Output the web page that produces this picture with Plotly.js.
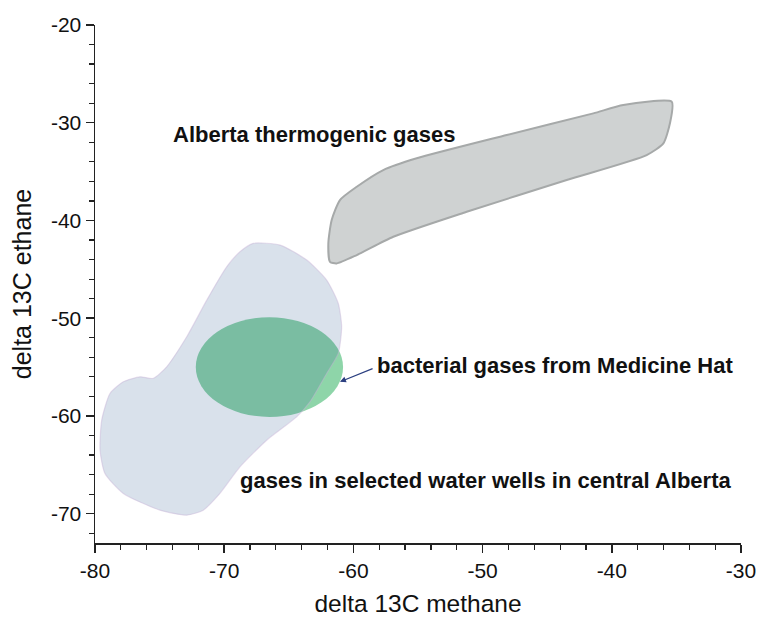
<!DOCTYPE html>
<html>
<head>
<meta charset="utf-8">
<script src="https://cdn.plot.ly/plotly-3.0.1.min.js"></script>
<style>html,body{margin:0;padding:0;background:#fff;}#chart{width:757px;height:617px;}</style>
</head>
<body>
<div id="chart"></div>
<script>
// Outline of "Alberta thermogenic gases" field (delta13C methane, delta13C ethane)
const thermoX = [-35.36,-39.11,-41.43,-48.13,-55.10,-57.69,-59.74,-61.04,-61.68,-61.94,-61.81,-61.29,-59.74,-56.91,-51.23,-43.49,-37.30,-36.01,-35.50,-35.36];
const thermoY = [-27.85,-28.19,-29.04,-31.26,-33.64,-34.84,-36.55,-37.91,-39.96,-42.34,-44.23,-44.39,-43.54,-41.67,-39.11,-35.86,-33.31,-32.11,-30.06,-27.85];

// Outline of "gases in selected water wells in central Alberta" field
const wellsX = [-67.75,-65.68,-63.61,-62.07,-61.17,-60.91,-61.17,-62.07,-63.36,-64.39,-66.71,-68.78,-70.33,-71.62,-72.90,-74.97,-77.81,-79.23,-79.61,-79.48,-78.84,-77.81,-76.52,-75.49,-74.45,-72.90,-71.35,-69.81,-68.78,-67.75];
const wellsY = [-42.34,-42.52,-44.05,-46.10,-48.49,-50.88,-53.60,-55.65,-58.56,-60.09,-62.48,-65.21,-67.93,-69.64,-70.15,-69.64,-67.93,-65.89,-63.50,-60.43,-57.70,-56.51,-56.00,-56.16,-54.97,-51.90,-48.15,-44.74,-43.20,-42.34];

// Bacterial gases from Medicine Hat: ellipse bounds
const bactX = [-72.2, -60.8];
const bactY = [-60.1, -49.9];

// Single marked sample
const sampleX = [-80.9];
const sampleY = [-69.7];

// Labels
const labelText = ["Alberta thermogenic gases", "bacterial gases from Medicine Hat", "gases in selected water wells in central Alberta"];
const labelX = [-74.1, -58.3, -68.95];
const labelY = [-31.2, -54.8, -66.6];
const arrowHead = [-61.04, -56.51];
const arrowTail = [-58.4, -55.1];

const xTicks = [-80, -70, -60, -50, -40, -30];
const yTicks = [-70, -60, -50, -40, -30, -20];

const traces = [
  {
    x: thermoX, y: thermoY, type: 'scatter', mode: 'lines',
    fill: 'toself', fillcolor: '#cfd2d2',
    line: {color: '#a6a9a9', width: 2, shape: 'spline', smoothing: 0.6},
    hoverinfo: 'skip', showlegend: false
  },
  {
    x: wellsX, y: wellsY, type: 'scatter', mode: 'lines',
    fill: 'toself', fillcolor: 'rgba(20,70,130,0.16)',
    line: {color: 'rgba(200,180,215,0.45)', width: 1.2, shape: 'spline', smoothing: 0.6},
    hoverinfo: 'skip', showlegend: false
  },
  {
    x: sampleX, y: sampleY, type: 'scatter', mode: 'markers',
    marker: {symbol: 'x-thin-open', size: 7, color: '#4a5a9c', line: {width: 1, color: '#4a5a9c'}},
    cliponaxis: false, hoverinfo: 'skip', showlegend: false
  }
];

const fontFam = '"Liberation Sans", Arial, Helvetica, sans-serif';

const annotations = labelText.map((t, i) => ({
  x: labelX[i], y: labelY[i], xref: 'x', yref: 'y', text: '<b>' + t + '</b>',
  showarrow: false, xanchor: 'left', yanchor: 'middle',
  font: {family: fontFam, size: 22, color: '#111111'}
}));
annotations.push({
  x: arrowHead[0], y: arrowHead[1], xref: 'x', yref: 'y',
  ax: arrowTail[0], ay: arrowTail[1], axref: 'x', ayref: 'y',
  text: '', showarrow: true, arrowhead: 2, arrowsize: 1, arrowwidth: 1.2,
  arrowcolor: '#2b3f80', standoff: 0, startstandoff: 0
});

const layout = {
  width: 757, height: 617,
  margin: {l: 95, r: 16, t: 25, b: 74},
  paper_bgcolor: '#ffffff', plot_bgcolor: '#ffffff',
  font: {family: fontFam, color: '#111111'},
  showlegend: false,
  xaxis: {
    range: [-80, -30], tickvals: xTicks, ticktext: xTicks.map(String),
    showgrid: false, zeroline: false, showline: true, linecolor: '#222222', linewidth: 1.5,
    ticks: 'outside', ticklen: 8, tickwidth: 1.5, tickcolor: '#222222',
    minor: {dtick: 2, ticks: 'outside', ticklen: 5, tickwidth: 1.2, tickcolor: '#222222', showgrid: false},
    tickfont: {family: fontFam, size: 21, color: '#111111'},
    title: {text: 'delta 13C methane', font: {family: fontFam, size: 24.5, color: '#111111'}, standoff: 14},
    fixedrange: true
  },
  yaxis: {
    range: [-73, -20], tickvals: yTicks, ticktext: yTicks.map(String),
    showgrid: false, zeroline: false, showline: true, linecolor: '#222222', linewidth: 1.5,
    ticks: 'outside', ticklen: 8, tickwidth: 1.5, tickcolor: '#222222',
    minor: {dtick: 2, ticks: 'outside', ticklen: 5, tickwidth: 1.2, tickcolor: '#222222', showgrid: false},
    tickfont: {family: fontFam, size: 21, color: '#111111'},
    title: {text: 'delta 13C ethane', font: {family: fontFam, size: 25, color: '#111111'}, standoff: 12},
    fixedrange: true
  },
  shapes: [{
    type: 'circle', xref: 'x', yref: 'y', layer: 'below',
    x0: bactX[0], x1: bactX[1], y0: bactY[0], y1: bactY[1],
    fillcolor: '#8ed5a9', line: {width: 0}
  }],
  annotations: annotations
};

Plotly.newPlot('chart', traces, layout, {staticPlot: true, displayModeBar: false});
</script>
</body>
</html>
